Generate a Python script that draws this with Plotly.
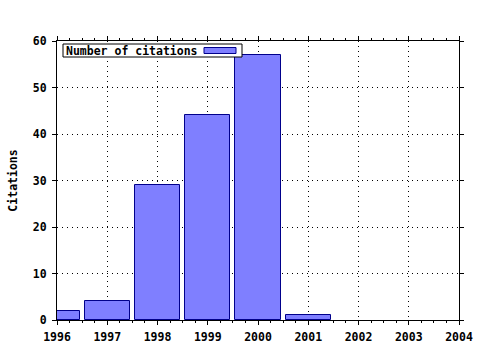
import plotly.graph_objects as go

years = [1996, 1997, 1998, 1999, 2000, 2001]
citations = [2, 4, 29, 44, 57, 1]
x_ticks = [1996, 1997, 1998, 1999, 2000, 2001, 2002, 2003, 2004]
y_ticks = [0, 10, 20, 30, 40, 50, 60]
series_name = "Number of citations"

FONT = "DejaVu Sans Mono"
FS = 11.5

fig = go.Figure()
fig.add_trace(go.Bar(
    x=years, y=citations, width=0.9, name=series_name,
    marker=dict(color="#7f7fff", line=dict(color="#00008b", width=1)),
    showlegend=False,
))

axis_common = dict(
    showline=True, linecolor="black", linewidth=1, mirror="ticks",
    showgrid=True, gridcolor="black", griddash="1px,4px", gridwidth=1,
    ticks="outside", ticklen=4, tickcolor="black",
    zeroline=False, automargin=False,
    tickfont=dict(family=FONT, size=FS, color="black", weight="bold"),
)

fig.update_layout(
    width=480, height=350,
    margin=dict(l=57, r=21, t=41, b=30),
    paper_bgcolor="white", plot_bgcolor="white",
    bargap=0,
    xaxis=dict(range=[1996, 2004], tickvals=x_ticks, ticktext=[str(v) for v in x_ticks],
               ticklabelstandoff=2,
               minor=dict(dtick=0.25, ticks="outside", ticklen=2, tickcolor="black", showgrid=False),
               **axis_common),
    yaxis=dict(range=[0, 60], tickvals=y_ticks, ticklabelstandoff=3,
               title=dict(text="Citations", standoff=12,
                          font=dict(family=FONT, size=FS, color="black", weight="bold")),
               **axis_common),
)

W, H = 402.0, 279.0
fig.add_shape(type="rect", xref="paper", yref="paper",
              x0=6/W, x1=185/W, y0=1-16/H, y1=1-3/H,
              line=dict(color="black", width=1), fillcolor="white")
fig.add_shape(type="rect", xref="paper", yref="paper",
              x0=147/W, x1=179/W, y0=1-12.5/H, y1=1-6.5/H,
              line=dict(color="#00008b", width=1), fillcolor="#7f7fff")
fig.add_annotation(xref="paper", yref="paper", x=7/W, y=1-9.5/H,
                   xanchor="left", yanchor="middle", showarrow=False,
                   text=series_name,
                   font=dict(family=FONT, size=FS, color="black", weight="bold"))

fig.write_html("out.html")
